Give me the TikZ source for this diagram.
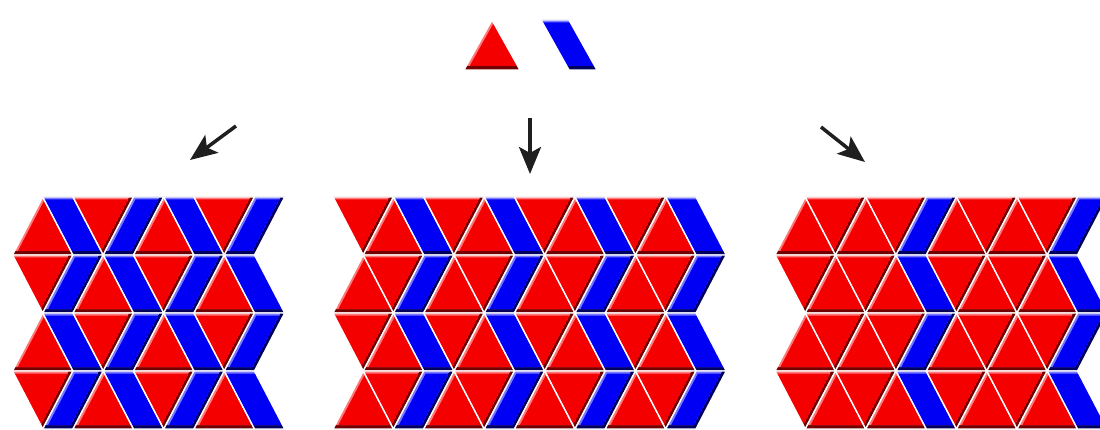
\documentclass[tikz,border=0pt]{standalone}
\usetikzlibrary{arrows.meta}
\definecolor{redmd}{RGB}{245,0,0}
\definecolor{redlt}{RGB}{255,120,120}
\definecolor{reddk}{RGB}{115,0,0}
\definecolor{bluemd}{RGB}{0,0,245}
\definecolor{bluelt}{RGB}{120,120,255}
\definecolor{bluedk}{RGB}{0,0,95}

% one bevelled tile: #1 colour (red/blue), #2 outline
\newcommand{\drawtile}[2]{%
  \begin{scope}
    \clip #2 -- cycle;
    \fill[#1dk] #2 -- cycle;
    \begin{scope}[xshift=-2pt, yshift=4pt]
      \clip #2 -- cycle;
      \fill[#1lt] #2 -- cycle;
      \begin{scope}[xshift=4pt, yshift=-6.5pt]
        \clip #2 -- cycle;
        \fill[#1md] #2 -- cycle;
      \end{scope}
    \end{scope}
  \end{scope}
  \draw[grout] #2 -- cycle;
}
\newcommand{\utri}[1]{\drawtile{red}{(#1,0) -- (#1+2,0) -- (#1+1,1)}}
\newcommand{\dtri}[1]{\drawtile{red}{(#1,0) -- (#1+1,1) -- (#1-1,1)}}
\newcommand{\bback}[1]{\drawtile{blue}{(#1,0) -- (#1+1,0) -- (#1,1) -- (#1-1,1)}}
\newcommand{\bfwd}[1]{\drawtile{blue}{(#1,0) -- (#1+1,0) -- (#1+2,1) -- (#1+1,1)}}

% one row of each tiling
\newcommand{\leftrow}{\foreach \p in {0,4} {\utri{\p} \bback{\p+2} \dtri{\p+3} \bfwd{\p+3}}}
\newcommand{\midrow}{\foreach \p in {0,3,6,9} {\dtri{\p+1} \utri{\p+1} \bback{\p+3}}}
\newcommand{\rightrow}{\foreach \p in {0,5} {\utri{\p} \dtri{\p+2} \utri{\p+2} \dtri{\p+4} \bfwd{\p+4}}}

\begin{document}
\begin{tikzpicture}[
x=1pt, y=-1pt,
grout/.style={white, line width=1.4pt, line join=round},
arrow/.style={-{Stealth[length=27pt, width=22pt, inset=6pt]}, line width=3.5pt, black!88}
]
\clip (0,0) rectangle (1100,430);

% the two tiles
\begin{scope}[shift={(464,70)}, x=28pt, y=50pt]
  \utri{0} \bback{3.75}
\end{scope}

% arrows
\coordinate (lfrom) at (236,126);
\coordinate (lto) at (190,160);
\coordinate (mfrom) at (530,118);
\coordinate (mto) at (530,174);
\coordinate (rfrom) at (821,127);
\coordinate (rto) at (865,162);
\draw[arrow] (lfrom) -- (lto);
\draw[arrow] (mfrom) -- (mto);
\draw[arrow] (rfrom) -- (rto);

% tilings, rows in mirrored pairs
\foreach \yb in {255,371} {
  \begin{scope}[shift={(12.5,\yb)}, x=30.25pt, y=58pt] \leftrow \end{scope}
  \begin{scope}[shift={(12.5,\yb)}, x=30.25pt, y=-58pt] \leftrow \end{scope}
  \begin{scope}[shift={(333,\yb)}, x=30.25pt, y=58pt] \midrow \end{scope}
  \begin{scope}[shift={(333,\yb)}, x=30.25pt, y=-58pt] \midrow \end{scope}
  \begin{scope}[shift={(775,\yb)}, x=30.25pt, y=58pt] \rightrow \end{scope}
  \begin{scope}[shift={(775,\yb)}, x=30.25pt, y=-58pt] \rightrow \end{scope}
}
\end{tikzpicture}
\end{document}
